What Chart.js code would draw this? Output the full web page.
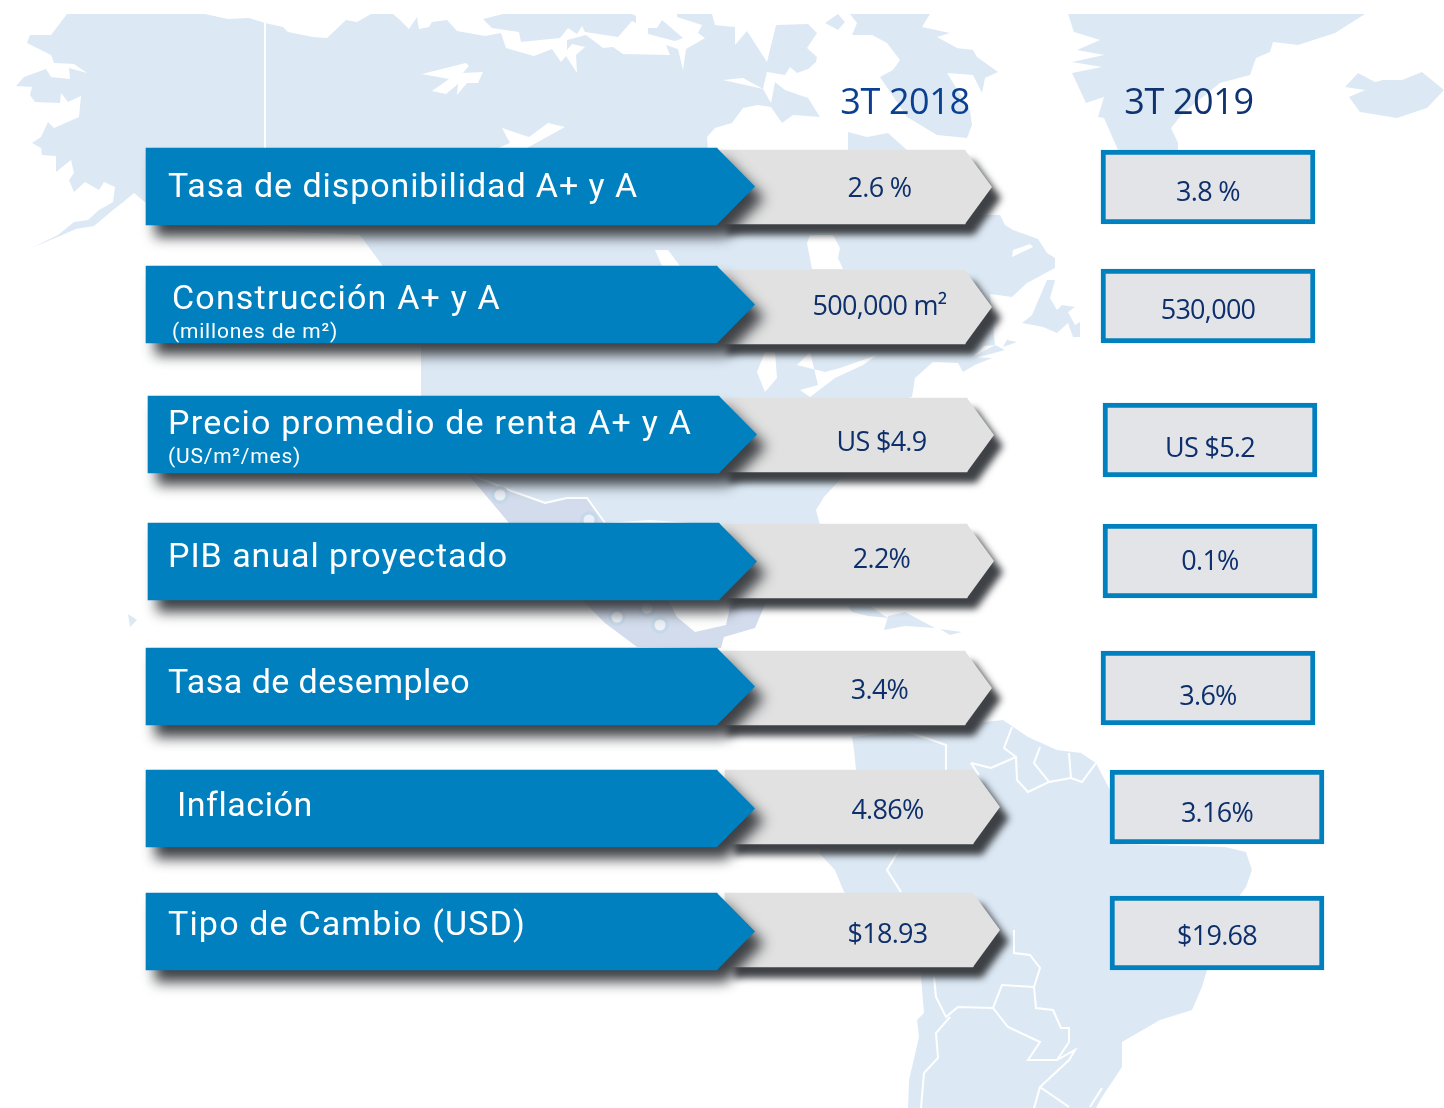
<!DOCTYPE html>
<html lang="es">
<head>
<meta charset="utf-8">
<title>Indicadores 3T 2018 - 3T 2019</title>
<script src="https://cdn.jsdelivr.net/npm/chart.js@4/dist/chart.umd.js"></script>
<style>
  html, body { margin: 0; padding: 0; background: #fff; }
  canvas { display: block; }
</style>
</head>
<body>
<canvas id="myChart" width="1444" height="1108"></canvas>
<script>
const categories = ['Tasa de disponibilidad A+ y A', 'Construcción A+ y A', 'Precio promedio de renta A+ y A', 'PIB anual proyectado', 'Tasa de desempleo', 'Inflación', 'Tipo de Cambio (USD)'];
const subLabels = ['', '(millones de m²)', '(US/m²/mes)', '', '', '', ''];
const periods = ['3T 2018', '3T 2019'];
const values2018 = ['2.6 %', '500,000 m²', 'US $4.9', '2.2%', '3.4%', '4.86%', '$18.93'];
const values2019 = ['3.8 %', '530,000', 'US $5.2', '0.1%', '3.6%', '3.16%', '$19.68'];

// the source artwork is hand placed, so every row has its own small offsets
const blueDx = [0, 0, 2, 2, 0, 0, 0];
const blueDy = [0.5, -5.5, 0.5, 3.5, 4.5, 2.5, 1.5];
const greyDx = [0, 0, 2, 2, 0, 8, 8];
const greyDy = [1, -3, 1, 3, 6, 1, 0];
const boxDx = [0, 0, 2, 2, 0, 9, 9];
const boxDy = [1, -4, 6, 3, 6, 1, 3];
const labelX = [168, 172, 168, 168, 168, 177, 168];
const labelY = [197, 309, 434, 567, 693, 816, 935];
const labelWidth = [470, 329, 524, 340, 302, 135, 358];
const subY = [0, 338, 463, 0, 0, 0, 0];
const grey2018TextDy = [10, 8, 16, 7, 11, 12, 13];
const box2019TextDy = [14, 13, 17, 9, 17, 15, 12];

const landColor = '#dce9f5';
const mexicoColor = '#d3dcec';

const landShapes = [
  // alaska, canada, usa
  [[67,14],[51,35],[30,35],[27,43],[51,55],[54,63],[74,64],[87,73],[69,68],[70,79],[51,77],[46,69],[24,77],[16,86],[32,87],[30,95],[35,102],[60,103],[61,93],[68,102],[81,96],[79,117],[54,128],[48,122],[41,137],[32,143],[41,148],[42,155],[56,156],[56,172],[71,160],[74,173],[69,180],[74,192],[85,182],[99,190],[104,182],[115,187],[113,202],[99,210],[88,220],[74,222],[58,235],[31,248],[60,236],[76,229],[94,226],[113,210],[122,203],[134,193],[146,203],[146,225],[360,235],[382,265],[421,345],[421,396],[467,473],[509,522],[605,523],[650,520],[720,525],[820,525],[816,510],[824,497],[846,473],[900,400],[912,397],[915,378],[933,362],[958,363],[963,372],[975,365],[992,358],[973,357],[984,346],[995,345],[990,294],[1012,297],[1027,283],[1055,268],[1055,258],[1047,253],[1038,239],[1013,230],[1005,225],[1000,215],[970,215],[965,152],[907,150],[888,133],[867,137],[848,132],[848,150],[708,150],[707,137],[715,128],[732,123],[743,108],[758,105],[771,107],[782,123],[793,115],[820,117],[808,98],[785,90],[775,82],[771,103],[763,89],[767,72],[785,75],[790,67],[797,73],[808,69],[816,62],[817,57],[807,48],[817,33],[808,24],[776,25],[767,62],[747,31],[735,45],[735,27],[715,25],[712,14]],
  // newfoundland and nova scotia
  [[1055,280],[1047,280],[1032,315],[1022,323],[1043,327],[1057,333],[1068,323],[1073,337],[1080,337],[1080,322],[1075,325],[1068,312],[1075,307],[1062,305],[1057,310],[1050,298]],
  [[1012,330],[1003,347],[1017,342],[1007,340]],
  [[958,363],[1005,350],[995,345],[973,357]],
  // greenland
  [[1068,14],[1365,14],[1335,33],[1298,45],[1273,42],[1270,52],[1256,58],[1250,75],[1220,83],[1183,113],[1171,128],[1178,143],[1178,150],[1118,150],[1104,118],[1098,117],[1104,97],[1086,103],[1072,73],[1102,67],[1072,62],[1104,55],[1077,50],[1100,40],[1074,32]],
  // iceland
  [[1358,73],[1345,87],[1365,90],[1349,97],[1360,112],[1397,118],[1427,108],[1444,90],[1422,72],[1402,80],[1383,80],[1375,82]],
  // hawaii
  [[128,614],[137,620],[130,627]],
  // caribbean
  [[848,606],[870,606],[888,618],[868,616],[852,612]],
  [[888,616],[905,612],[935,628],[905,626],[884,630]],
  [[940,629],[962,632],[950,635]],
  // south america
  [[852,737],[1003,720],[1028,737],[1057,750],[1081,753],[1096,763],[1110,790],[1110,844],[1225,847],[1246,852],[1252,870],[1246,887],[1240,895],[1240,970],[1207,970],[1202,987],[1192,1010],[1160,1020],[1122,1042],[1122,1067],[1102,1097],[1096,1108],[908,1108],[909,1080],[919,1037],[917,1020],[924,1013],[921,977],[920,960],[844,892],[835,870],[819,853],[856,770],[854,750]]
];

const waterShapes = [
  // arctic sea along the top edge
  [[205,14],[228,19],[249,18],[265,23],[283,27],[288,32],[313,37],[327,38],[346,20],[357,22],[371,14],[393,14],[400,20],[409,29],[417,17],[419,29],[429,27],[432,22],[447,20],[457,31],[485,36],[501,33],[506,48],[534,56],[552,49],[561,62],[566,56],[577,73],[576,55],[585,47],[572,44],[567,50],[567,40],[586,35],[603,48],[613,47],[623,54],[670,55],[666,45],[678,49],[683,70],[686,49],[705,38],[698,33],[702,25],[677,17],[677,14]],
  [[422,74],[466,63],[469,66],[463,73],[483,72],[478,83],[467,83],[457,95],[458,84],[446,94],[432,91],[449,79]],
  [[502,128],[529,137],[548,123],[565,127],[527,148],[498,148],[510,143]],
  [[723,80],[743,78],[763,89]],
  [[655,250],[668,250],[680,266],[662,266]],
  [[807,243],[810,235],[833,235],[840,248],[838,258],[843,269],[812,269]],
  [[1030,244],[1013,250],[1012,257],[1033,247]],
  [[775,352],[777,378],[765,392],[757,372],[765,352]],
  [[797,365],[810,352],[818,385],[800,390],[810,397],[835,378],[863,365],[877,355],[840,368],[825,372]]
];

const islandShapes = [
  [[483,19],[503,14],[534,14],[538,21],[534,14],[632,14],[636,16],[636,23],[632,21],[618,37],[585,32],[582,26],[577,34],[568,28],[560,38],[521,42],[519,32],[492,28]],
  [[648,28],[657,28],[662,20],[683,38],[675,41],[648,34]],
  // baffin
  [[850,14],[930,14],[922,27],[950,33],[937,37],[957,48],[973,50],[977,57],[998,72],[985,78],[982,93],[973,75],[947,73],[970,110],[972,125],[967,138],[937,135],[907,117],[880,77],[893,70],[900,60],[887,43],[872,35],[852,35],[857,23]],
  [[825,23],[838,14],[845,22],[838,30]]
];

const mexicoShape = [[467,473],[545,503],[567,498],[587,498],[605,523],[668,600],[677,617],[695,632],[726,625],[730,607],[766,602],[755,628],[724,637],[721,648],[637,647],[605,623],[592,610],[509,523]];
const mexicoDots = [[500,495],[589,520],[617,617],[647,608],[660,625]];

const borderLines = [
  [[467,473],[509,490],[545,503],[567,498],[587,498],[605,523]],
  [[265,23],[265,148]],
  [[901,730],[926,738],[946,745],[946,770]],
  [[971,763],[991,768],[1016,757],[1004,748],[1012,727]],
  [[971,763],[979,775]],
  [[1016,757],[1017,780],[1028,792],[1049,782],[1034,763],[1040,747]],
  [[1049,782],[1071,778],[1069,753]],
  [[1071,778],[1082,782],[1096,763]],
  [[901,847],[887,870],[901,892]],
  [[1014,930],[1014,953],[1030,955],[1040,968],[1034,987],[1002,985],[993,1008],[958,1007],[946,1017],[936,997],[934,977]],
  [[1034,987],[1036,1008],[1053,1010],[1061,1028],[1069,1028],[1069,1042],[1057,1060],[1028,1060],[1040,1042],[1008,1027],[993,1008]],
  [[950,1017],[936,1033],[938,1058],[924,1073],[921,1108]],
  [[1057,1060],[1075,1050],[1069,1060],[1040,1087],[1034,1108]],
  [[1040,1087],[1069,1107]],
  [[1102,1088],[1090,1107]]
];

function tracePoly(ctx, pts) {
  ctx.beginPath();
  pts.forEach(function(p, i) {
    if (i === 0) ctx.moveTo(p[0], p[1]);
    else ctx.lineTo(p[0], p[1]);
  });
}

function fillPolys(ctx, shapes, color) {
  ctx.fillStyle = color;
  shapes.forEach(function(s) {
    tracePoly(ctx, s);
    ctx.closePath();
    ctx.fill();
  });
}

const mapBackground = {
  id: 'mapBackground',
  beforeDraw(chart) {
    const ctx = chart.ctx;
    ctx.save();
    ctx.beginPath();
    ctx.rect(0, 14, 1444, 1094);
    ctx.clip();
    fillPolys(ctx, landShapes, landColor);
    fillPolys(ctx, waterShapes, '#fff');
    fillPolys(ctx, islandShapes, landColor);
    fillPolys(ctx, [mexicoShape], mexicoColor);
    ctx.strokeStyle = '#fff';
    ctx.lineWidth = 2;
    borderLines.forEach(function(s) { tracePoly(ctx, s); ctx.stroke(); });
    mexicoDots.forEach(function(d) {
      ctx.beginPath();
      ctx.arc(d[0], d[1], 9, 0, Math.PI * 2);
      ctx.fillStyle = '#c6d9ea';
      ctx.fill();
      ctx.beginPath();
      ctx.arc(d[0], d[1], 5.5, 0, Math.PI * 2);
      ctx.fillStyle = '#eef2f8';
      ctx.fill();
    });
    ctx.restore();
  }
};

// moves the bars off the regular category grid and draws the arrow tips and shadows
const arrowBars = {
  id: 'arrowBars',
  afterDatasetsUpdate(chart) {
    chart.data.datasets.forEach(function(ds, d) {
      chart.getDatasetMeta(d).data.forEach(function(bar, i) {
        bar.y += ds.rowDy[i];
      });
    });
  },
  beforeDatasetDraw(chart, args) {
    const ds = chart.data.datasets[args.index];
    if (!ds.tip) return;
    const ctx = chart.ctx;
    ctx.save();
    ctx.shadowColor = 'rgba(56,59,63,0.97)';
    ctx.shadowBlur = ds.shadowBlur;
    ctx.shadowOffsetX = 9;
    ctx.shadowOffsetY = ds.shadowDrop;
    ctx.fillStyle = ds.backgroundColor;
    args.meta.data.forEach(function(bar) {
      const top = bar.y - bar.height / 2;
      const bottom = bar.y + bar.height / 2;
      tracePoly(ctx, [[bar.base, top], [bar.x, top], [bar.x + ds.tip, bar.y], [bar.x, bottom], [bar.base, bottom]]);
      ctx.closePath();
      ctx.fill();
    });
    ctx.restore();
  }
};

const barTexts = {
  id: 'barTexts',
  afterDatasetsDraw(chart) {
    const ctx = chart.ctx;
    const greyBars = chart.getDatasetMeta(1).data;
    const boxBars = chart.getDatasetMeta(2).data;
    ctx.save();
    ctx.textBaseline = 'alphabetic';

    ctx.textAlign = 'left';
    ctx.fillStyle = '#fff';
    categories.forEach(function(name, i) {
      ctx.letterSpacing = '0px';
      ctx.font = '34px Roboto';
      // spacing differs a little per row so each label ends where the original does
      const extra = (labelWidth[i] - ctx.measureText(name).width) / name.length;
      ctx.letterSpacing = extra.toFixed(2) + 'px';
      ctx.fillText(name, labelX[i], labelY[i]);
      if (subLabels[i]) {
        ctx.letterSpacing = '0.8px';
        ctx.font = '21px Roboto';
        ctx.fillText(subLabels[i], labelX[i], subY[i]);
      }
    });

    ctx.textAlign = 'center';
    ctx.font = '27px "Open Sans"';
    ctx.letterSpacing = '-0.7px';
    ctx.fillStyle = '#0d2f6b';
    values2018.forEach(function(v, i) {
      ctx.fillText(v, greyBars[i].x - 85.5, greyBars[i].y + grey2018TextDy[i]);
    });
    values2019.forEach(function(v, i) {
      ctx.fillText(v, (boxBars[i].x + boxBars[i].base) / 2, boxBars[i].y + box2019TextDy[i]);
    });

    ctx.font = '36px "Open Sans"';
    ctx.letterSpacing = '-0.4px';
    ctx.fillStyle = '#0b3f91';
    ctx.fillText(periods[0], 905, 114);
    ctx.fillStyle = '#0f3370';
    ctx.fillText(periods[1], 1189, 114);
    ctx.restore();
  }
};

function myChart() {
  let ctx = document.querySelector('#myChart').getContext('2d');
  new Chart(ctx, {
    type: 'bar',
    data: {
      labels: categories,
      datasets: [
        {
          label: 'Indicador',
          data: categories.map(function(c, i) { return [146 + blueDx[i], 717 + blueDx[i]]; }),
          rowDy: blueDy,
          tip: 38,
          shadowBlur: 13,
          shadowDrop: 12,
          backgroundColor: '#0080bf',
          barThickness: 77
        },
        {
          label: periods[0],
          data: categories.map(function(c, i) { return [717 + greyDx[i], 965 + greyDx[i]]; }),
          rowDy: greyDy,
          tip: 27,
          shadowBlur: 7,
          shadowDrop: 11,
          backgroundColor: '#e1e1e1',
          barThickness: 74
        },
        {
          label: periods[1],
          data: categories.map(function(c, i) { return [1101 + boxDx[i], 1315 + boxDx[i]]; }),
          rowDy: boxDy,
          backgroundColor: '#e3e4e8',
          borderColor: '#0080bf',
          borderWidth: 5,
          borderSkipped: false,
          barThickness: 74
        }
      ]
    },
    options: {
      indexAxis: 'y',
      responsive: false,
      animation: false,
      events: [],
      layout: { padding: { top: 124, bottom: 116, left: 0, right: 0 } },
      datasets: { bar: { grouped: false } },
      plugins: { legend: { display: false }, tooltip: { enabled: false } },
      scales: {
        x: { type: 'linear', min: 0, max: 1444, display: false },
        y: { type: 'category', display: false }
      }
    },
    plugins: [mapBackground, arrowBars, barTexts]
  });
}
myChart();
</script>
</body>
</html>
